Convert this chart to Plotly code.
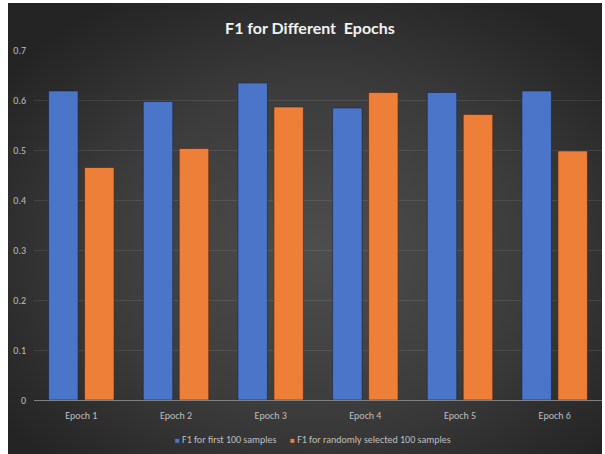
import base64
import plotly.graph_objects as go

categories = ["Epoch 1", "Epoch 2", "Epoch 3", "Epoch 4", "Epoch 5", "Epoch 6"]
f1_first = [0.618, 0.597, 0.634, 0.584, 0.615, 0.618]
f1_random = [0.465, 0.503, 0.586, 0.615, 0.571, 0.498]
series_names = ["F1 for first 100 samples", "F1 for randomly selected 100 samples"]
series_colors = ["#4b75c9", "#ee7f38"]
y_ticks = [0, 0.1, 0.2, 0.3, 0.4, 0.5, 0.6, 0.7]

W, H = 605, 454
L, R, T, B = 34, 3, 50, 54
pw, ph = W - L - R, H - T - B

svg = (
    '<svg xmlns="http://www.w3.org/2000/svg" width="594" height="451" viewBox="0 0 594 451">'
    '<defs><radialGradient id="g" cx="52%" cy="55%" r="65%">'
    '<stop offset="0%" stop-color="#4e4e4e"/>'
    '<stop offset="55%" stop-color="#3c3c3c"/>'
    '<stop offset="100%" stop-color="#242424"/>'
    '</radialGradient></defs>'
    '<rect width="594" height="451" fill="url(#g)"/></svg>'
)
bg_src = "data:image/svg+xml;base64," + base64.b64encode(svg.encode()).decode()

label_font = "Carlito, 'Liberation Sans Narrow', Lato, sans-serif"

fig = go.Figure()
fig.add_trace(go.Bar(
    x=categories, y=f1_first, name=series_names[0],
    marker=dict(color=series_colors[0], line=dict(color="rgba(20,30,60,0.55)", width=1)),
))
fig.add_trace(go.Bar(
    x=categories, y=f1_random, name=series_names[1],
    marker=dict(color=series_colors[1], line=dict(color="rgba(70,30,10,0.55)", width=1)),
))

legend_text = "&nbsp;&nbsp;&nbsp;&nbsp;&nbsp;&nbsp;".join(
    "<span style='color:%s;font-size:8px'>■</span> %s" % (c, n)
    for c, n in zip(series_colors, series_names)
)

fig.update_layout(
    width=W, height=H,
    margin=dict(l=L, r=R, t=T, b=B),
    paper_bgcolor="white",
    plot_bgcolor="rgba(0,0,0,0)",
    barmode="group",
    bargap=0.24,
    bargroupgap=0.18,
    title=dict(
        text="<b>F1 for Different  Epochs</b>",
        x=310 / W, xanchor="center",
        y=1 - 28 / H, yanchor="middle", yref="container",
        font=dict(family="Lato, 'Noto Sans', sans-serif", size=16, color="#f2f2f2"),
    ),
    font=dict(family=label_font, size=10, color="#bfbfbf"),
    showlegend=False,
    annotations=[dict(
        text=legend_text, xref="paper", yref="paper",
        x=(313 - L) / pw, y=(400 - 439) / ph,
        xanchor="center", yanchor="middle", showarrow=False,
        font=dict(family=label_font, size=10, color="#bfbfbf"),
    )],
    images=[dict(
        source=bg_src, xref="paper", yref="paper",
        x=(8 - L) / pw, y=(400 - 3) / ph,
        sizex=594 / pw, sizey=451 / ph,
        xanchor="left", yanchor="top", sizing="stretch", layer="below",
    )],
)

fig.update_xaxes(
    showgrid=False, showline=True, linecolor="#808080", linewidth=1,
    ticks="", ticklabelstandoff=6,
    tickfont=dict(family=label_font, size=10, color="#bfbfbf"),
)
fig.update_yaxes(
    range=[0, 0.7], tickvals=y_ticks, ticktext=[("%g" % v) for v in y_ticks],
    showgrid=True, gridcolor="rgba(255,255,255,0.09)", gridwidth=1,
    zeroline=False, showline=False, ticks="", ticklabelstandoff=7,
    tickfont=dict(family=label_font, size=10, color="#bfbfbf"),
)

fig.write_html("out.html")
